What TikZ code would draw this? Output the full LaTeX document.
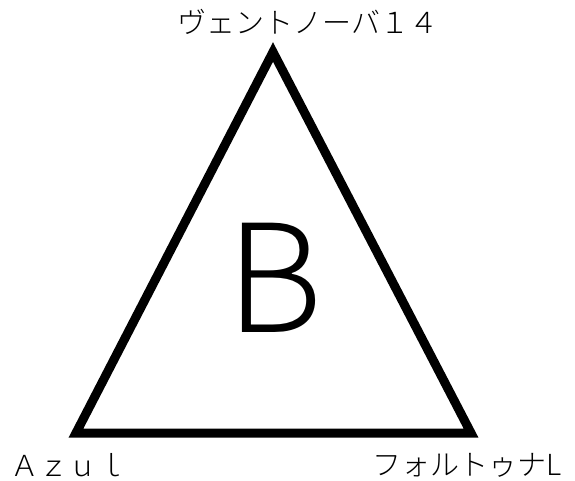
\documentclass[tikz,border=0pt]{standalone}
\usepackage{fontspec}
\setmainfont{Noto Sans CJK JP}[UprightFont={* Light}]
\begin{document}
\begin{tikzpicture}[x=1pt,y=-1pt]
    \tikzset{label text/.style={inner sep=0pt, font=\fontsize{29}{29}\selectfont}}
    \useasboundingbox (0,0) rectangle (575,481);
    \coordinate (apex) at (273,52);
    \coordinate (base left) at (76,433);
    \coordinate (base right) at (471,433);
    \draw[line width=9pt, line join=miter] (apex) -- (base left) -- (base right) -- cycle;
    \node (big B) at (275,278) {\fontsize{150}{150}\selectfont B};
    \node[label text] (ventnova) at (308,22) {ヴェントノーバ１４};
    \node[label text, anchor=west] (azul) at (10,465) {Ａｚｕｌ};
    \node[label text, anchor=east] (fortuna) at (562,465) {フォルトゥナL};
\end{tikzpicture}
\end{document}
